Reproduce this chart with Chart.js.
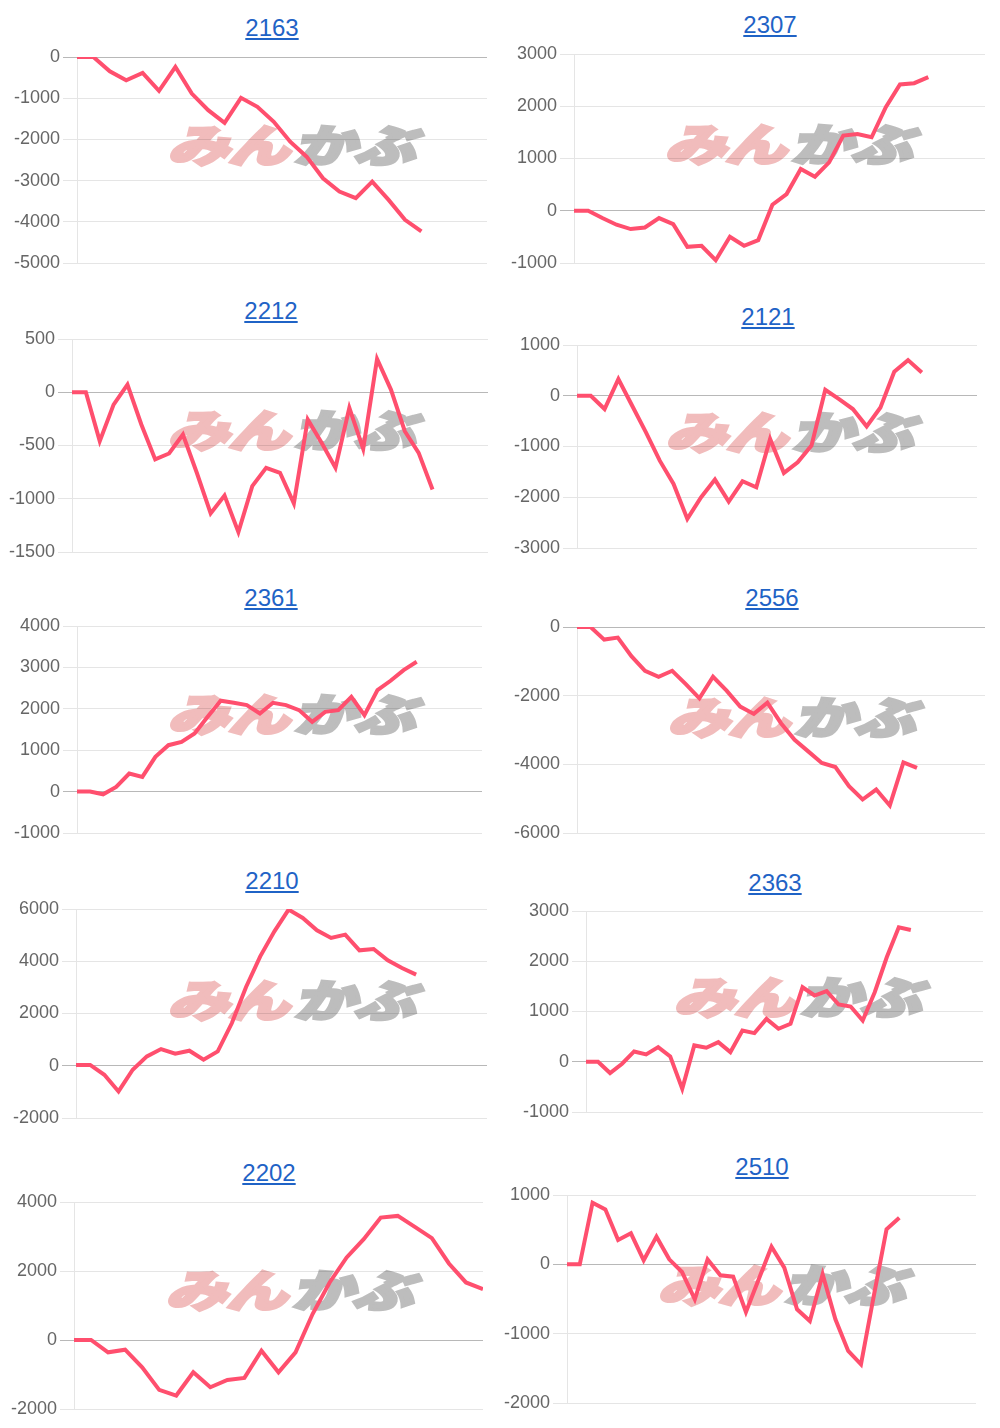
<!DOCTYPE html>
<html>
<head>
<meta charset="utf-8">
<script src="https://cdn.jsdelivr.net/npm/chart.js@4"></script>
<style>
  html, body { margin:0; padding:0; background:#fff; }
  body { width:1000px; height:1428px; position:relative; overflow:hidden; font-family:"Liberation Sans", Arial, sans-serif; }
  .title { position:absolute; width:200px; text-align:center; font-size:24px; line-height:24px; }
  .title a { color:#1f63c6; text-decoration:underline; text-underline-offset:2px; text-decoration-thickness:2px; }
  .wm { position:absolute; font-family:"Noto Sans CJK JP", sans-serif; font-weight:900; font-size:44px; line-height:44px; white-space:nowrap; transform-origin:left top; transform:scale(1.4,1) skewX(-12deg); z-index:0; letter-spacing:-1px; }
  .wm .a { color:#f1bcbc; -webkit-text-stroke:3px #f1bcbc; }
  .wm .b { color:#bdbdbd; -webkit-text-stroke:3px #bdbdbd; margin-left:4px; }
  .box { position:absolute; z-index:1; }
</style>
</head>
<body>
<script>
// ---- data ----
const codes = ["2163", "2307", "2212", "2121", "2361", "2556", "2210", "2363", "2202", "2510"];
const slots = [26, 30, 31, 30, 32, 31, 30, 34, 25, 33];

const s2163 = [0, 0, -347, -565, -387, -823, -242, -887, -1290, -1597, -992, -1210, -1573, -2056, -2419, -2944, -3266, -3427, -3024, -3468, -3952, -4234];
const s2307 = [0, 0, -140, -268, -351, -320, -140, -256, -690, -671, -946, -499, -671, -562, 115, 319, 799, 652, 927, 1438, 1470, 1406, 1981, 2416, 2441, 2556];
const s2212 = [0, 0, -459, -116, 72, -303, -631, -575, -397, -756, -1138, -969, -1313, -881, -709, -756, -1044, -256, -475, -709, -147, -531, 313, 25, -366, -569, -913];
const s2121 = [0, 0, -262, 328, -197, -721, -1279, -1738, -2426, -2000, -1652, -2085, -1685, -1803, -852, -1521, -1311, -983, 118, -66, -262, -603, -230, 472, 702, 459];
const s2361 = [0, 0, -65, 113, 435, 355, 839, 1121, 1202, 1403, 1806, 2194, 2145, 2089, 1887, 2145, 2089, 1968, 1685, 1927, 1968, 2290, 1847, 2452, 2677, 2935, 3137];
const s2556 = [0, 0, -367, -309, -850, -1275, -1449, -1275, -1662, -2077, -1449, -1855, -2319, -2531, -2203, -2802, -3285, -3623, -3961, -4077, -4638, -5024, -4734, -5198, -3942, -4106];
const s2210 = [30, 30, -345, -983, -153, 358, 639, 460, 575, 230, 549, 1635, 3014, 4189, 5147, 5977, 5658, 5185, 4891, 5019, 4419, 4470, 4036, 3742, 3487];
const s2363 = [0, 0, -225, -40, 205, 146, 291, 106, -536, 325, 278, 391, 192, 623, 570, 854, 656, 755, 1483, 1318, 1404, 1139, 1099, 821, 1384, 2079, 2675, 2623];
const s2202 = [0, 0, -357, -280, -791, -1447, -1610, -935, -1369, -1157, -1099, -309, -935, -357, 752, 1668, 2392, 2922, 3549, 3597, 3279, 2951, 2218, 1668, 1475];
const s2510 = [0, 0, 889, 793, 351, 447, 58, 399, 72, -111, -505, 72, -159, -178, -688, -216, 255, -48, -649, -817, -144, -793, -1250, -1442, -457, 505, 673];

const series = [s2163, s2307, s2212, s2121, s2361, s2556, s2210, s2363, s2202, s2510];
const yMin  = [-5000, -1000, -1500, -3000, -1000, -6000, -2000, -1000, -2000, -2000];
const yMax  = [0, 3000, 500, 1000, 4000, 0, 6000, 3000, 4000, 1000];
const yStep = [1000, 1000, 500, 1000, 1000, 2000, 2000, 1000, 2000, 1000];

// ---- layout (page pixels) ----
// [canvasLeft, plotLeft, plotRight, plotTop, plotBottom, titleCx, titleCy, wmLeft, wmTop]
const boxes = [
  [0,   77, 487,   57,  263, 272,   28, 172, 121],
  [500, 574, 985,  54,  263, 770,   25, 669, 120],
  [0,   72, 488,  339,  552, 271,  311, 172, 406],
  [500, 577, 977, 345,  548, 768,  317, 670, 408],
  [0,   77, 482,  626,  833, 271,  598, 172, 690],
  [500, 577, 985, 627,  833, 772,  598, 672, 693],
  [0,   76, 487,  909, 1118, 272,  881, 172, 976],
  [500, 586, 983, 911, 1112, 775,  883, 678, 973],
  [0,   74, 483, 1202, 1409, 269, 1173, 170, 1266],
  [500, 567, 976, 1195, 1403, 762, 1167, 662, 1261]
];

const PAD = 14;

codes.forEach((code, i) => {
  const [cl, pl, pr, pt, pb, tcx, tcy, wl, wt] = boxes[i];

  const t = document.createElement('div');
  t.className = 'title';
  t.style.left = (tcx - 100) + 'px';
  t.style.top = (tcy - 12) + 'px';
  t.innerHTML = '<a href="#">' + code + '</a>';
  document.body.appendChild(t);

  const w = document.createElement('div');
  w.className = 'wm';
  w.style.left = (wl + 8) + 'px';
  w.style.top = wt + 'px';
  w.innerHTML = '<span class="a">みん</span><span class="b">かぶ</span>';
  document.body.appendChild(w);

  const box = document.createElement('div');
  box.className = 'box';
  box.style.left = cl + 'px';
  box.style.top = (pt - PAD) + 'px';
  box.style.width = (pr - cl) + 'px';
  box.style.height = (pb - pt + 2 * PAD) + 'px';
  const cv = document.createElement('canvas');
  box.appendChild(cv);
  document.body.appendChild(box);

  const axisW = pl - cl;
  const labels = Array.from({length: slots[i]}, (_, k) => String(k + 1));

  new Chart(cv, {
    type: 'line',
    data: {
      labels: labels,
      datasets: [{
        data: series[i],
        borderColor: '#ff4f6e',
        borderWidth: 4,
        pointRadius: 0,
        tension: 0,
        fill: false
      }]
    },
    options: {
      responsive: true,
      maintainAspectRatio: false,
      animation: false,
      layout: { padding: { top: PAD, bottom: PAD, left: 0, right: 0 } },
      plugins: { legend: { display: false }, tooltip: { enabled: false }, title: { display: false } },
      scales: {
        x: { display: false },
        y: {
          min: yMin[i], max: yMax[i],
          ticks: { stepSize: yStep[i], color: '#666', padding: 3,
                   font: { family: '"Liberation Sans", Arial, sans-serif', size: 18 },
                   callback: v => String(v) },
          grid: {
            color: ctx => (ctx.tick && ctx.tick.value === 0) ? 'rgba(0,0,0,0.28)' : 'rgba(0,0,0,0.1)',
            tickLength: 14, lineWidth: 1
          },
          border: { color: 'rgba(0,0,0,0.1)' },
          afterFit: s => { s.width = axisW; }
        }
      }
    }
  });
});
</script>
</body>
</html>
